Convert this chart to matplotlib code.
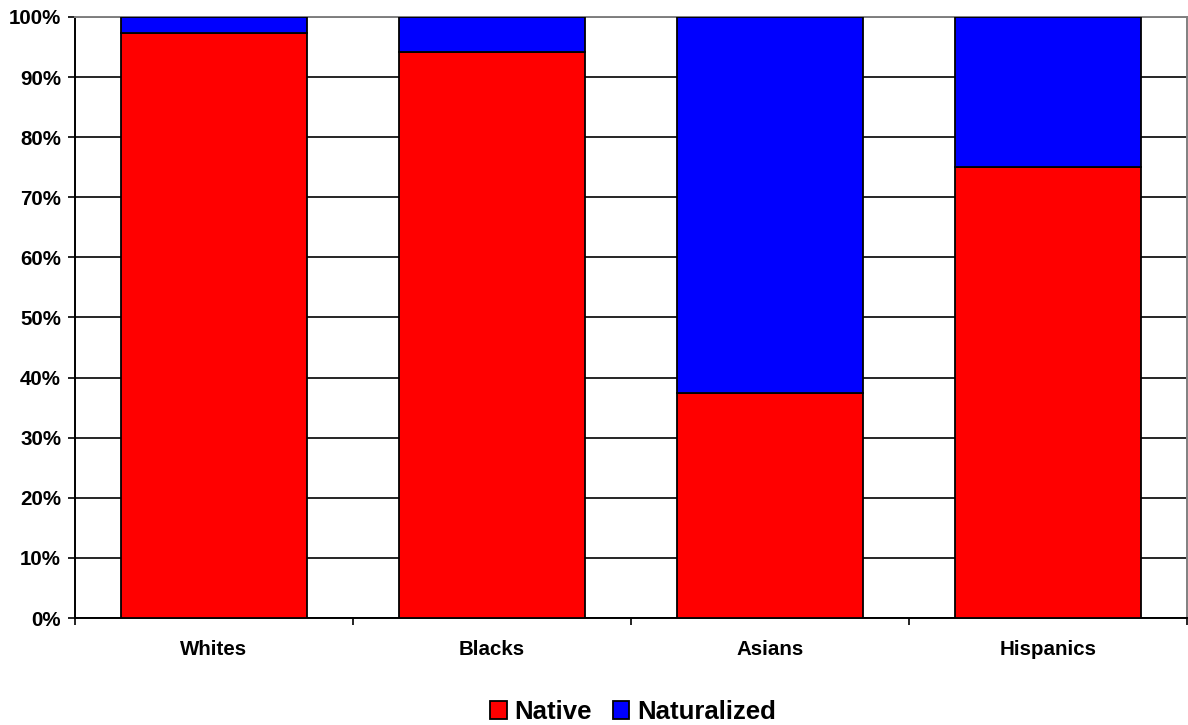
import numpy as np
import matplotlib
matplotlib.use("Agg")
import matplotlib.pyplot as plt
from matplotlib.ticker import FixedLocator, PercentFormatter

plt.rcParams['font.family'] = ['Liberation Sans', 'DejaVu Sans']
plt.rcParams['font.weight'] = 'bold'

groups = ["Whites", "Blacks", "Asians", "Hispanics"]
native = [97.4, 94.1, 37.4, 75.1]
naturalized = [2.6, 5.9, 62.6, 24.9]

fig = plt.figure(figsize=(11.88, 7.25), dpi=100)
ax = fig.add_axes([75 / 1188, 1 - 618 / 725, 1112 / 1188, 601 / 725])

x = np.arange(len(groups))
w = 0.667
ax.bar(x, native, w, color="#ff0000", edgecolor="black", linewidth=1.3, label="Native", zorder=3)
ax.bar(x, naturalized, w, bottom=native, color="#0000ff", edgecolor="black", linewidth=1.3,
       label="Naturalized", zorder=3)

ax.set_xlim(-0.5, 3.5)
ax.set_ylim(0, 100)
ax.set_yticks(np.arange(0, 101, 10))
ax.yaxis.set_major_formatter(PercentFormatter(decimals=0))
ax.yaxis.grid(True, color="black", linewidth=1.2, zorder=0)

ax.xaxis.set_major_locator(FixedLocator(np.arange(-0.5, 4, 1)))
ax.xaxis.set_major_formatter(plt.NullFormatter())
ax.xaxis.set_minor_locator(FixedLocator(x))
ax.set_xticklabels(groups, minor=True)
ax.tick_params(axis="x", which="minor", length=0, pad=15.5, labelsize=14.8)
ax.tick_params(axis="x", which="major", length=5, width=1.2, direction="out")
ax.tick_params(axis="y", length=5, width=1.2, pad=5, labelsize=14.8)

for s in ["left", "bottom"]:
    ax.spines[s].set_color("black")
    ax.spines[s].set_linewidth(1.4)
for s in ["top", "right"]:
    ax.spines[s].set_color("#808080")
    ax.spines[s].set_linewidth(1.4)

fig.legend(loc="center", bbox_to_anchor=(633 / 1188, 1 - 712 / 725), ncol=2, frameon=False,
           prop={"size": 18.5, "weight": "bold"}, handlelength=0.65, handleheight=0.65,
           handletextpad=0.3, columnspacing=0.8, borderpad=0.2)

fig.savefig("out.png", dpi=100)
